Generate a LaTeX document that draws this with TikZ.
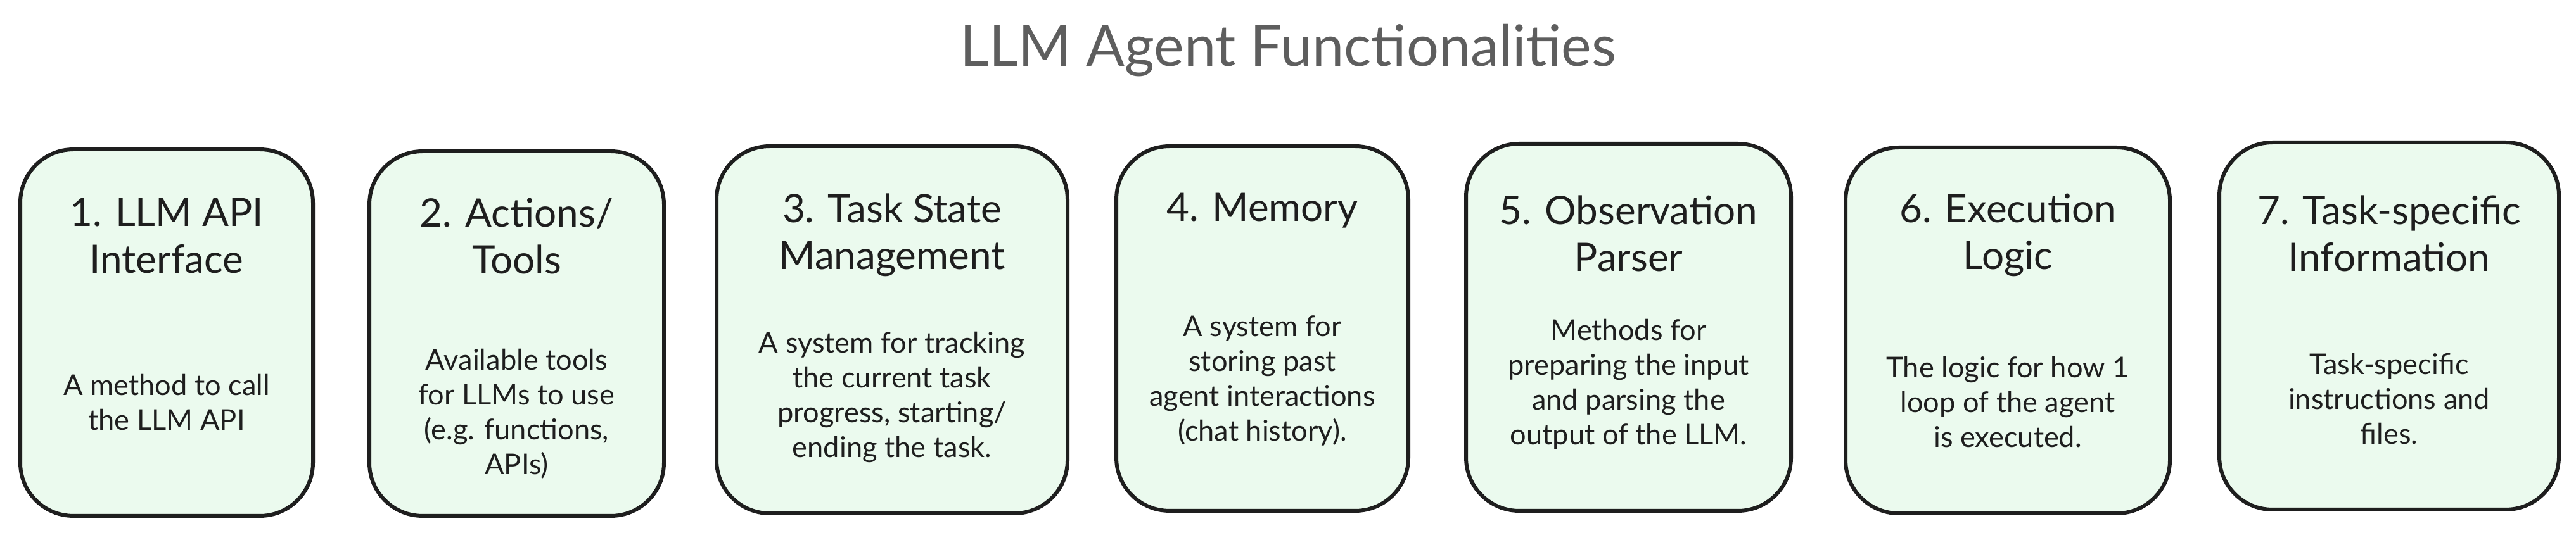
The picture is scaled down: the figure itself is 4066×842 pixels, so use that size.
\documentclass[tikz,border=0pt]{standalone}
\usepackage{fontspec}
\setmainfont{Lato}
\definecolor{cardfill}{RGB}{235,250,238}
\definecolor{cardline}{RGB}{30,30,30}
\definecolor{titlegray}{RGB}{94,94,94}
\tikzset{
  card/.style={draw=cardline, fill=cardfill, line width=1.5pt, rounded corners=21pt, inner sep=0pt},
  cardhead/.style={font=\fontsize{15.5}{18.5}\selectfont, align=center, text=cardline, inner sep=0pt},
  cardbody/.style={font=\fontsize{11.3}{13.75}\selectfont, align=center, text=cardline, inner sep=0pt},
}
\begin{document}
\begin{tikzpicture}[x=0.25pt,y=-0.25pt]
\useasboundingbox (0,0) rectangle (4066,842);

% Text Node
\node [font=\fontsize{22.5}{26}\selectfont, text=titlegray, inner sep=0pt] (title) at (2033,80) {LLM Agent Functionalities};

%Shape: Card 1
\node [card, minimum width=115.5pt, minimum height=144.75pt] (card1) at (263,525.5) {};
%Shape: Card 2
\node [card, minimum width=116.25pt, minimum height=144pt] (card2) at (815.5,527) {};
%Shape: Card 3
\node [card, minimum width=138.5pt, minimum height=145pt] (card3) at (1408,521) {};
%Shape: Card 4
\node [card, minimum width=115.25pt, minimum height=144pt] (card4) at (1992.5,519) {};
%Shape: Card 5
\node [card, minimum width=128.25pt, minimum height=145pt] (card5) at (2570.5,517) {};
%Shape: Card 6
\node [card, minimum width=128pt, minimum height=144.5pt] (card6) at (3169,522) {};
%Shape: Card 7
\node [card, minimum width=134pt, minimum height=145pt] (card7) at (3771,515) {};

% Text Node
\node [cardhead] (head1) at (263,373) {1. LLM API\\Interface};
% Text Node
\node [cardhead] (head2) at (815.5,373) {2. Actions/\\Tools};
% Text Node
\node [cardhead] (head3) at (1408,371) {3. Task State\\Management};
% Text Node
\node [cardhead] (head4) at (1992.5,333) {4. Memory};
% Text Node
\node [cardhead] (head5) at (2570.5,369) {5. Observation\\Parser};
% Text Node
\node [cardhead] (head6) at (3169,371) {6. Execution\\Logic};
% Text Node
\node [cardhead] (head7) at (3771,369) {7. Task-specific\\Information};

% Text Node
\node [cardbody] (body1) at (263,636) {A method to call\\the LLM API};
% Text Node
\node [cardbody] (body2) at (815.5,654) {Available tools\\for LLMs to use\\(e.g. functions,\\APIs)};
% Text Node
\node [cardbody] (body3) at (1408,627) {A system for tracking\\the current task\\progress, starting/\\ending the task.};
% Text Node
\node [cardbody] (body4) at (1992.5,601) {A system for\\storing past\\agent interactions\\(chat history).};
% Text Node
\node [cardbody] (body5) at (2570.5,607) {Methods for\\preparing the input\\and parsing the\\output of the LLM.};
% Text Node
\node [cardbody] (body6) at (3169,635) {The logic for how 1\\loop of the agent\\is executed.};
% Text Node
\node [cardbody] (body7) at (3771,630) {Task-specific\\instructions and\\files.};

\end{tikzpicture}
\end{document}
